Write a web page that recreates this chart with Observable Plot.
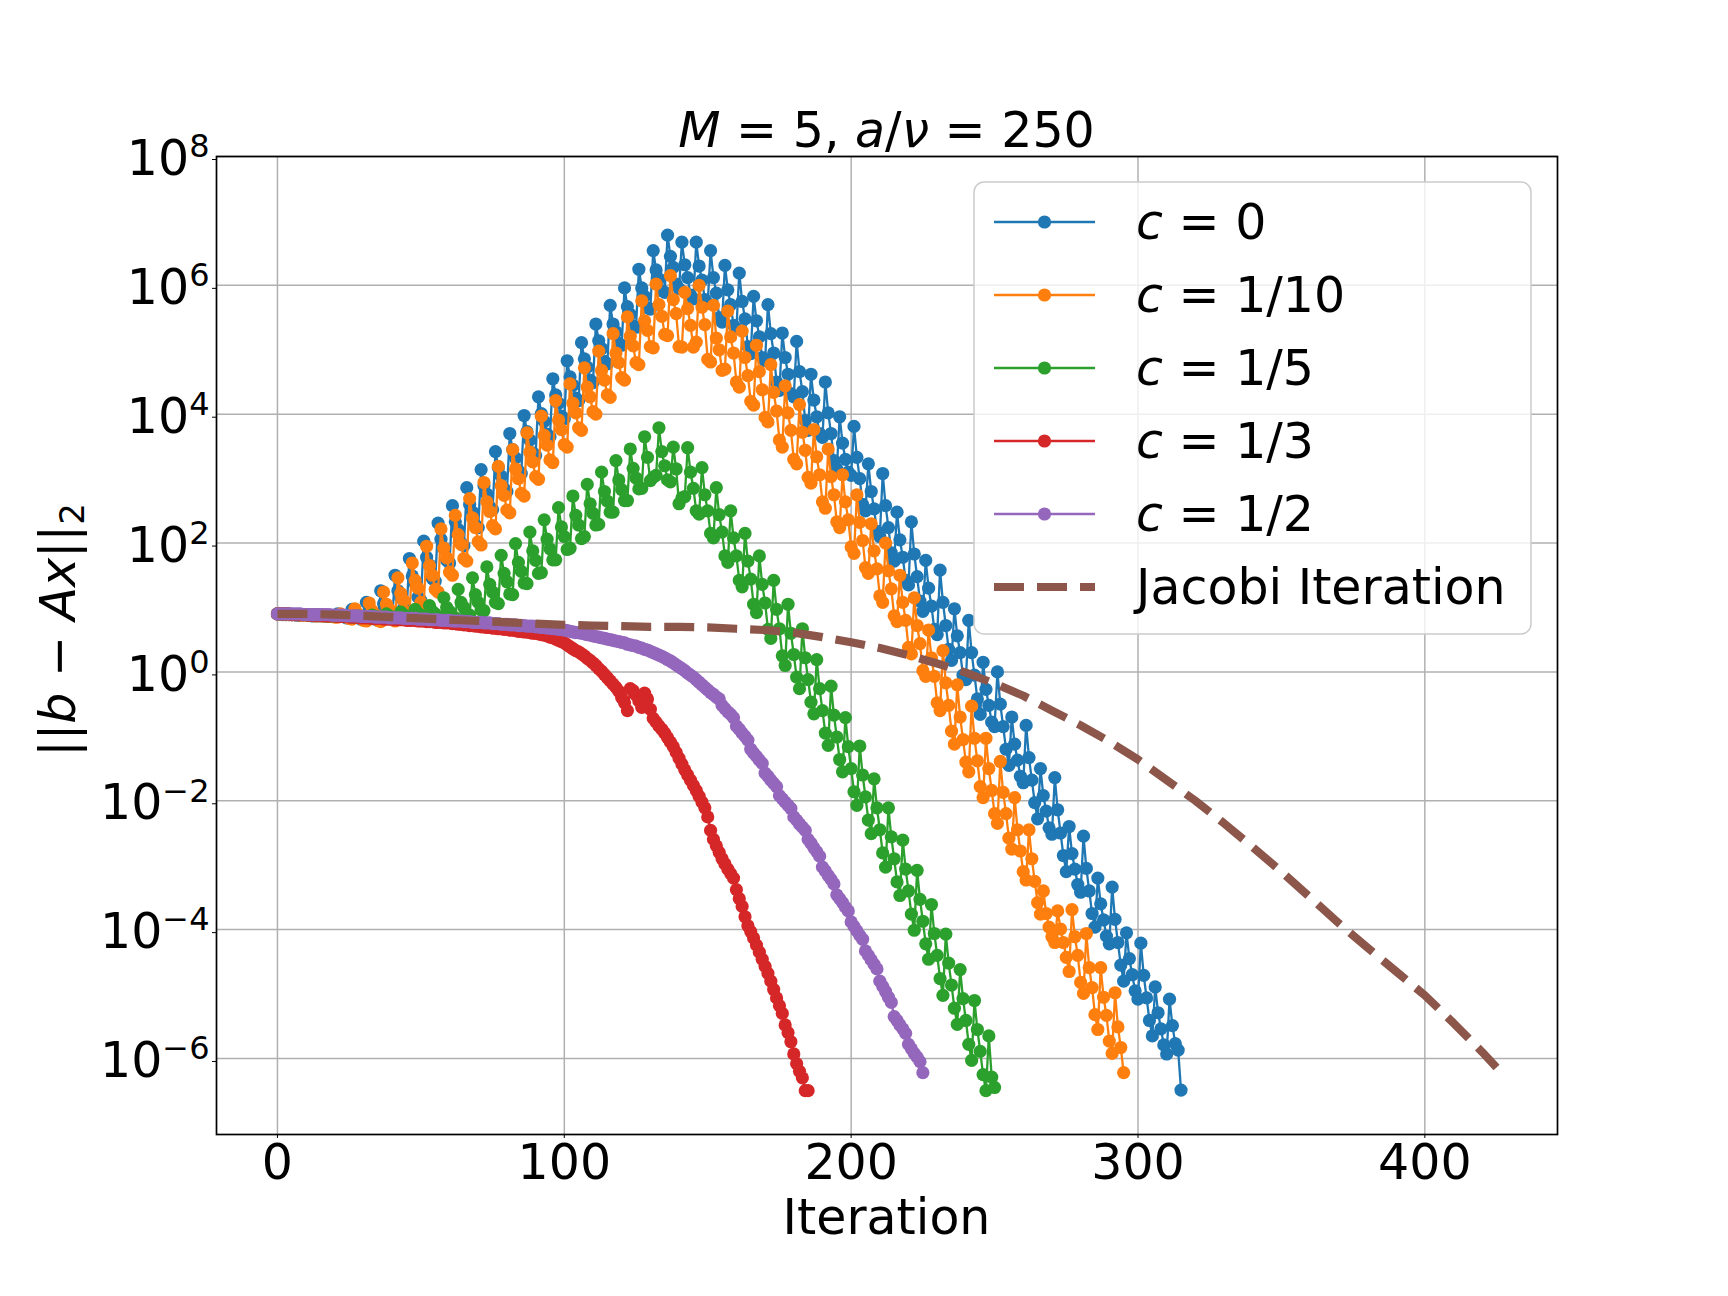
<!DOCTYPE html>
<html><head><meta charset="utf-8">
<script src="https://cdn.jsdelivr.net/npm/d3@7"></script>
<script src="https://cdn.jsdelivr.net/npm/@observablehq/plot@0.6"></script>
<style>
html,body{margin:0;padding:0;background:#fff;}
#chart{position:relative;width:1728px;height:1296px;}
svg text{white-space:pre;}
</style></head><body><div id="chart"></div>
<script>
// ---- data: log10 of residual norm, one value per iteration (index = iteration) ----
const resC0Log10 = [
0.90,0.90,0.89,0.89,0.89,0.89,0.89,0.88,0.88,0.88,0.88,0.88,0.87,0.87,0.87,0.87,0.88,0.87,0.86,0.86,0.86,
0.90,0.87,0.86,0.84,0.84, 0.97,0.90,0.87,0.82,0.81, 1.08,0.97,0.91,0.82,0.80, 1.26,1.06,0.98,0.86,0.82,
1.50,1.26,1.15,0.99,0.94, 1.76,1.49,1.37,1.16,1.11, 2.03,1.78,1.66,1.45,1.41, 2.31,2.06,1.92,1.73,1.69,
2.58,2.33,2.21,2.00,1.96, 2.86,2.60,2.48,2.28,2.24, 3.14,2.89,2.76,2.56,2.52, 3.42,3.17,3.04,2.84,2.80,
3.70,3.45,3.32,3.12,3.08, 3.98,3.73,3.60,3.40,3.36, 4.27,4.01,3.89,3.69,3.65, 4.55,4.30,4.17,3.97,3.93,
4.83,4.58,4.45,4.25,4.21, 5.11,4.86,4.73,4.53,4.49, 5.40,5.14,5.02,4.82,4.78, 5.69,5.40,5.28,5.10,5.07,
5.96,5.67,5.55,5.37,5.35, 6.25,5.96,5.83,5.65,5.63, 6.54,6.24,6.10,5.92,5.89, 6.78,6.45,6.28,6.02,5.95,
6.67,6.32,6.12,5.85,5.79, 6.67,6.30,6.08,5.78,5.72, 6.54,6.12,5.88,5.50,5.43, 6.31,5.93,5.70,5.38,5.33,
6.19,5.75,5.48,5.05,4.94, 5.83,5.45,5.20,4.88,4.83, 5.70,5.25,4.95,4.50,4.37, 5.26,4.88,4.62,4.32,4.27,
5.13,4.66,4.35,3.90,3.75, 4.62,4.22,3.96,3.70,3.64, 4.50,4.02,3.70,3.28,3.15, 3.96,3.55,3.30,3.10,3.05,
3.81,3.33,3.00,2.60,2.50, 3.23,2.80,2.53,2.18,2.10, 3.08,2.58,2.24,1.85,1.72, 2.48,2.05,1.78,1.42,1.35,
2.33,1.83,1.48,1.10,0.94, 1.73,1.30,1.02,0.66,0.58, 1.58,1.08,0.72,0.35,0.18, 0.98,0.56,0.30,-0.05,-0.12,
0.80,0.30,-0.05,-0.42,-0.66, 0.15,-0.27,-0.52,-0.78,-0.85, 0.00,-0.50,-0.85,-1.20,-1.45, -0.70,-1.12,-1.37,-1.62,-1.72,
-0.83,-1.33,-1.68,-2.03,-2.28, -1.50,-1.92,-2.16,-2.42,-2.52, -1.64,-2.14,-2.50,-2.85,-3.10, -2.40,-2.82,-3.06,-3.30,-3.42,
-2.55,-3.05,-3.40,-3.75,-3.96, -3.20,-3.60,-3.85,-4.10,-4.22, -3.34,-3.84,-4.20,-4.55,-4.80, -4.05,-4.45,-4.70,-4.95,-5.08,
-4.21,-4.71,-5.06,-5.41,-5.65, -4.89,-5.29,-5.54,-5.79,-5.93, -5.08,-5.49,-5.77,-5.87,-6.49
];
const resC10Log10 = [
0.90,0.90,
0.90,0.89,0.89,0.89,0.89, 0.89,0.88,0.88,0.88,0.88, 0.88,0.87,0.87,0.87,0.87, 0.88,0.86,0.86,0.85,0.85,
0.90,0.87,0.85,0.83,0.82, 0.98,0.90,0.86,0.80,0.79, 1.07,0.95,0.89,0.80,0.78, 1.24,1.05,0.97,0.82,0.79,
1.46,1.22,1.11,0.93,0.88, 1.69,1.42,1.30,1.08,1.03, 1.95,1.65,1.50,1.28,1.24, 2.22,1.92,1.77,1.55,1.50,
2.43,2.13,1.98,1.76,1.72, 2.69,2.39,2.24,2.02,1.97, 2.94,2.64,2.49,2.27,2.22, 3.19,2.89,2.74,2.51,2.47,
3.45,3.15,3.00,2.77,2.73, 3.71,3.41,3.26,3.03,2.99, 3.97,3.67,3.52,3.29,3.25, 4.21,3.91,3.76,3.53,3.49,
4.47,4.17,4.02,3.79,3.75, 4.72,4.42,4.27,4.04,4.00, 4.98,4.68,4.53,4.30,4.26, 5.25,4.95,4.80,4.57,4.53,
5.51,5.21,5.06,4.80,4.77, 5.76,5.45,5.30,5.05,5.03, 6.02,5.70,5.52,5.24,5.22, 6.15,5.78,5.56,5.05,5.04,
5.89,5.64,5.38,5.04,5.12, 6.00,5.66,5.39,4.85,4.81, 5.69,5.18,5.00,4.68,4.70, 5.60,5.20,4.95,4.50,4.42,
5.29,4.88,4.60,4.20,4.14, 5.07,4.66,4.38,3.95,3.88, 4.77,4.34,4.05,3.60,3.49, 4.44,4.02,3.75,3.30,3.23,
4.15,3.72,3.44,3.02,2.93, 3.76,3.34,3.06,2.64,2.54, 3.46,3.03,2.75,2.33,2.24, 3.06,2.64,2.36,1.94,1.84,
2.75,2.32,2.04,1.62,1.53, 2.30,1.88,1.60,1.18,1.08, 2.00,1.57,1.29,0.87,0.78, 1.50,1.08,0.80,0.38,0.28,
1.15,0.72,0.44,0.02,-0.07, 0.65,0.22,-0.07,-0.48,-0.60, 0.33,-0.17,-0.52,-0.92,-1.12, -0.20,-0.70,-1.05,-1.40,-1.55,
-0.53,-1.03,-1.38,-1.78,-1.95, -1.03,-1.50,-1.84,-2.20,-2.35, -1.39,-1.87,-2.20,-2.58,-2.75, -1.95,-2.45,-2.78,-3.10,-3.23,
-2.45,-2.90,-3.25,-3.58,-3.76, -3.40,-3.75,-3.96,-4.11,-4.20, -3.71,-3.99,-4.20,-4.43,-4.65, -3.69,-4.11,-4.40,-4.82,-4.99,
-4.06,-4.59,-4.90,-5.32,-5.55, -4.59,-5.05,-5.33,-5.73,-5.92, -4.98,-5.51,-5.83,-6.22
];
const resC5Log10 = [
0.90,0.90,0.90,
0.90,0.90,0.89,0.89,0.89, 0.89,0.89,0.89,0.88,0.88, 0.88,0.88,0.88,0.87,0.87, 0.87,0.87,0.87,0.86,0.86,
0.87,0.86,0.86,0.85,0.85, 0.87,0.86,0.85,0.85,0.84, 0.88,0.86,0.85,0.84,0.84, 0.90,0.87,0.85,0.84,0.83,
0.93,0.89,0.86,0.84,0.83, 0.97,0.91,0.88,0.84,0.83, 1.03,0.94,0.90,0.84,0.83, 1.15,1.00,0.94,0.86,0.84,
1.28,1.08,1.00,0.90,0.88, 1.46,1.20,1.08,0.96,0.95, 1.63,1.36,1.24,1.08,1.06, 1.81,1.53,1.40,1.21,1.20,
1.99,1.70,1.56,1.38,1.37, 2.17,1.88,1.73,1.53,1.54, 2.36,2.06,1.91,1.74,1.74, 2.55,2.25,2.10,1.90,1.92,
2.73,2.43,2.28,2.07,2.10, 2.91,2.61,2.46,2.28,2.29, 3.10,2.80,2.65,2.48,2.48, 3.28,2.98,2.83,2.66,2.66,
3.46,3.16,3.01,2.84,2.85, 3.65,3.33,2.97,3.02,3.05, 3.79,3.42,3.20,2.98,2.95, 3.49,3.15,2.61,2.70,2.72,
3.48,3.10,2.85,2.50,2.45, 3.17,2.75,2.50,2.15,2.08, 2.86,2.44,2.17,1.80,1.70, 2.50,2.08,1.80,1.42,1.32,
2.15,1.72,1.44,1.05,0.92, 1.80,1.36,1.07,0.66,0.52, 1.42,0.97,0.67,0.25,0.10, 1.05,0.60,0.27,-0.08,-0.26,
0.67,0.22,-0.12,-0.47,-0.65, 0.19,-0.26,-0.60,-0.95,-1.14, -0.22,-0.67,-1.01,-1.36,-1.55, -0.71,-1.16,-1.50,-1.86,-2.07,
-1.15,-1.60,-1.94,-2.30,-2.51, -1.66,-2.11,-2.45,-2.81,-3.03, -2.11,-2.56,-2.90,-3.26,-3.47, -2.61,-3.06,-3.40,-3.76,-4.01,
-3.08,-3.53,-3.87,-4.22,-4.46, -3.61,-4.06,-4.40,-4.76,-5.02, -4.07,-4.52,-4.86,-5.22,-5.47, -4.62,-5.07,-5.41,-5.78,-6.03,
-5.10,-5.55,-5.89,-6.25,-6.50, -5.65,-6.29,-6.45
];
const resC3Log10 = [
0.90,0.90,0.90,0.90,0.90,0.89,0.89,0.89,0.89,0.89,
0.89,0.88,0.88,0.88,0.88,0.88,0.87,0.87,0.87,0.87,
0.87,0.86,0.86,0.86,0.86,0.85,0.85,0.85,0.85,0.84,
0.84,0.84,0.84,0.83,0.83,0.83,0.83,0.82,0.82,0.82,
0.82,0.81,0.81,0.81,0.81,0.80,0.80,0.80,0.80,0.79,
0.79,0.79,0.78,0.78,0.78,0.77,0.77,0.77,0.76,0.76,
0.76,0.75,0.75,0.74,0.74,0.73,0.73,0.72,0.72,0.71,
0.71,0.70,0.70,0.69,0.69,0.68,0.68,0.67,0.67,0.66,
0.66,0.65,0.65,0.64,0.63,0.63,0.62,0.62,0.61,0.60,
0.60,0.59,0.58,0.57,0.56,0.54,0.53,0.51,0.49,0.47,
0.45,0.42,0.39,0.36,0.33,0.31,0.28,0.25,0.21,0.18,
0.14,0.10,0.05,0.01,-0.04,-0.09,-0.14,-0.19,-0.24,-0.30,
-0.40,-0.48,-0.60,-0.26,-0.29,-0.36,-0.45,-0.55,-0.33,-0.42,
-0.58,-0.72,-0.78,-0.84,-0.89,-0.95,-1.02,-1.09,-1.16,-1.25,
-1.34,-1.43,-1.52,-1.60,-1.68,-1.76,-1.84,-1.93,-2.02,-2.11,
-2.25,-2.46,-2.60,-2.70,-2.80,-2.90,-2.98,-3.06,-3.13,-3.20,
-3.38,-3.52,-3.64,-3.80,-3.94,-4.03,-4.13,-4.24,-4.35,-4.46,
-4.57,-4.68,-4.80,-4.93,-5.06,-5.18,-5.30,-5.48,-5.60,-5.74,
-5.93,-6.08,-6.20,-6.30,-6.50,-6.50
];
const resC2Log10 = [
0.90,0.90,0.90,0.90,0.90,0.90,0.90,0.90,0.90,0.89,
0.89,0.89,0.89,0.89,0.89,0.89,0.89,0.89,0.89,0.88,
0.88,0.88,0.88,0.88,0.87,0.87,0.87,0.87,0.87,0.86,
0.86,0.86,0.86,0.86,0.85,0.85,0.85,0.85,0.85,0.84,
0.84,0.84,0.84,0.84,0.83,0.83,0.83,0.83,0.83,0.82,
0.82,0.82,0.82,0.81,0.81,0.81,0.81,0.80,0.80,0.80,
0.80,0.79,0.79,0.79,0.79,0.78,0.78,0.78,0.77,0.77,
0.77,0.77,0.76,0.76,0.76,0.75,0.75,0.75,0.74,0.74,
0.74,0.73,0.73,0.73,0.72,0.72,0.72,0.71,0.71,0.71,
0.70,0.70,0.69,0.69,0.68,0.68,0.67,0.67,0.66,0.66,
0.65,0.64,0.63,0.62,0.61,0.61,0.60,0.59,0.58,0.57,
0.56,0.55,0.54,0.53,0.52,0.51,0.50,0.49,0.48,0.47,
0.46,0.45,0.43,0.42,0.41,0.40,0.38,0.37,0.35,0.34,
0.32,0.30,0.28,0.26,0.24,0.22,0.19,0.17,0.14,0.11,
0.08,0.05,0.02,-0.02,-0.05,-0.08,-0.12,-0.16,-0.20,-0.24,
-0.28,-0.32,-0.35,-0.39,-0.42,-0.52,-0.57,-0.62,-0.66,-0.71,
-0.84,-0.89,-0.95,-1.00,-1.06,-1.20,-1.26,-1.31,-1.37,-1.42,
-1.57,-1.62,-1.68,-1.73,-1.78,-1.92,-1.97,-2.02,-2.07,-2.12,
-2.25,-2.30,-2.36,-2.41,-2.46,-2.60,-2.66,-2.73,-2.79,-2.86,
-3.03,-3.09,-3.16,-3.22,-3.29,-3.46,-3.52,-3.58,-3.65,-3.71,
-3.88,-3.95,-4.02,-4.09,-4.15,-4.33,-4.40,-4.47,-4.54,-4.61,
-4.80,-4.88,-4.96,-5.05,-5.13,-5.35,-5.41,-5.48,-5.54,-5.61,
-5.78,-5.85,-5.92,-5.98,-6.05,-6.22
];
const jacobiIter = [0,10,20,30,40,50,60,70,80,90,100,110,120,130,140,150,160,170,180,190,200,210,220,230,240,250,260,270,280,290,300,310,320,330,340,350,360,370,380,390,400,410,420,425];
const jacobiLog10 = [0.90,0.90,0.89,0.87,0.85,0.83,0.81,0.79,0.77,0.75,0.73,0.72,0.71,0.70,0.70,0.69,0.67,0.65,0.61,0.54,0.46,0.37,0.26,0.13,-0.01,-0.18,-0.37,-0.60,-0.83,-1.08,-1.36,-1.68,-2.00,-2.35,-2.72,-3.10,-3.50,-3.90,-4.28,-4.65,-5.02,-5.45,-5.90,-6.14];

const seriesNames = ["0","1/10","1/5","1/3","1/2"];
const seriesColors = ["#1f77b4","#ff7f0e","#2ca02c","#d62728","#9467bd"];
const jacobiColor = "#8c564b";
const xTickValues = [0,100,200,300,400];
const yTickExponents = [-6,-4,-2,0,2,4,6,8];

// ---- layout ----
const W = 1728, H = 1296;
const ML = 216, MR = 171, MT = 156, MB = 162;
const FS = 49;
const DOT_R = 6.6;
const JAC_W = 8.2, JAC_DASH = "30,13";

const seriesLogs = [resC0Log10,resC10Log10,resC5Log10,resC3Log10,resC2Log10];
const series = seriesLogs.map(logs => logs.map((v,i) => ({iter:i, res:Math.pow(10,v)})));
const jac = jacobiIter.map((it,i) => ({iter:it, res:Math.pow(10,jacobiLog10[i])}));
const yTickValues = yTickExponents.map(e => Math.pow(10,e));

const marks = [
  Plot.ruleX(xTickValues, {stroke:"#b0b0b0", strokeWidth:1.5}),
  Plot.ruleY(yTickValues, {stroke:"#b0b0b0", strokeWidth:1.5})
];
series.forEach((d,k) => {
  marks.push(Plot.line(d, {x:"iter", y:"res", stroke:seriesColors[k], strokeWidth:2.3}));
  marks.push(Plot.dot(d, {x:"iter", y:"res", fill:seriesColors[k], r:DOT_R}));
});
marks.push(Plot.line(jac, {x:"iter", y:"res", stroke:jacobiColor, strokeWidth:JAC_W, strokeDasharray:JAC_DASH, strokeLinecap:"butt", strokeLinejoin:"round"}));
marks.push(Plot.frame({stroke:"#000", strokeWidth:1.7}));
marks.push(Plot.axisX({ticks:xTickValues, tickSize:4, tickPadding:6, label:null, fontSize:FS, tickFormat:d=>String(d)}));
marks.push(Plot.axisY({ticks:yTickValues, tickSize:4, tickPadding:3, label:null, fontSize:FS, dy:3, tickFormat:d=>"10^"+Math.round(Math.log10(d))}));

const svg = Plot.plot({
  width:W, height:H,
  marginLeft:ML, marginRight:MR, marginTop:MT, marginBottom:MB,
  x:{domain:[-21.25,446.25]},
  y:{type:"log", domain:[Math.pow(10,-7.18), 1e8]},
  style:{fontFamily:"'DejaVu Sans', sans-serif", fontSize:FS+"px", background:"white", color:"black", overflow:"visible"},
  marks
});
document.getElementById("chart").append(svg);

const S = d3.select(svg);
// superscript tick labels
S.selectAll('g[aria-label="y-axis tick label"] text').each(function(){
  const t = this.textContent;
  const e = t.split("^")[1].replace("-","\u2212");
  const sel = d3.select(this);
  sel.text(null);
  sel.append("tspan").text("10");
  sel.append("tspan").attr("dy","-0.56em").attr("font-size","32px").text(e);
});

const cx = (ML + (W - MR)) / 2;
const g = S.append("g").attr("font-family","'DejaVu Sans', sans-serif").attr("fill","black");
// title
const title = g.append("text").attr("x",cx).attr("y",147).attr("text-anchor","middle").attr("font-size",FS);
title.append("tspan").attr("font-style","italic").text("M");
title.append("tspan").text(" = 5, ");
title.append("tspan").attr("font-style","italic").text("a");
title.append("tspan").text("/");
title.append("tspan").attr("font-style","italic").text("\u03bd");
title.append("tspan").text(" = 250");
// x label
g.append("text").attr("x",cx).attr("y",1234).attr("text-anchor","middle").attr("font-size",FS).text("Iteration");
// y label
const yl = g.append("text").attr("transform","translate(75,630) rotate(-90)").attr("text-anchor","middle").attr("font-size",FS);
yl.append("tspan").text("||");
yl.append("tspan").attr("font-style","italic").text("b");
yl.append("tspan").text(" \u2212 ");
yl.append("tspan").attr("font-style","italic").text("Ax");
yl.append("tspan").text("||");
yl.append("tspan").attr("font-size","34px").attr("dy","0.25em").text("2");

// legend
const lg = g.append("g").attr("text-anchor","start");
lg.append("rect").attr("x",974).attr("y",182).attr("width",557).attr("height",452).attr("rx",10)
  .attr("fill","white").attr("fill-opacity",0.8).attr("stroke","#cccccc").attr("stroke-width",1.5);
const rowY = i => 222 + 73*i;
seriesNames.forEach((nm,i) => {
  const y = rowY(i);
  lg.append("line").attr("x1",994).attr("x2",1095).attr("y1",y).attr("y2",y).attr("stroke",seriesColors[i]).attr("stroke-width",2.3);
  lg.append("circle").attr("cx",1044.5).attr("cy",y).attr("r",DOT_R).attr("fill",seriesColors[i]);
  const t = lg.append("text").attr("x",1136).attr("y",y+17).attr("font-size",FS).attr("text-anchor","start");
  t.append("tspan").attr("font-style","italic").text("c");
  t.append("tspan").text(" = " + nm);
});
{
  const y = rowY(5);
  lg.append("line").attr("x1",994).attr("x2",1095).attr("y1",y).attr("y2",y).attr("stroke",jacobiColor)
    .attr("stroke-width",JAC_W).attr("stroke-dasharray",JAC_DASH);
  lg.append("text").attr("x",1136).attr("y",y+17).attr("font-size",FS).attr("text-anchor","start").text("Jacobi Iteration");
}
</script></body></html>
